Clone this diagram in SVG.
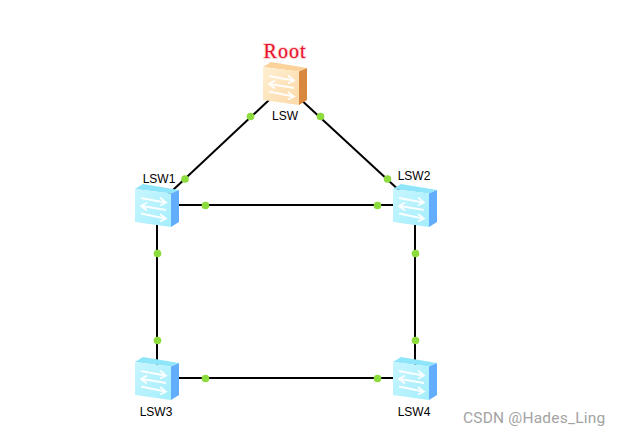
<svg xmlns="http://www.w3.org/2000/svg" width="621" height="436" viewBox="0 0 621 436">
<defs>
<linearGradient id="blueFace" x1="0" y1="0" x2="1" y2="1"><stop offset="0" stop-color="#c8f6ff"/><stop offset="1" stop-color="#a4eefc"/></linearGradient>
<linearGradient id="orangeFace" x1="0" y1="0" x2="1" y2="1"><stop offset="0" stop-color="#fff0d2"/><stop offset="1" stop-color="#fcd9a8"/></linearGradient>
<g id="arrows" fill="none" stroke="#fff" stroke-width="1.8" opacity="0.95">
<path d="M6 14 L30 18.500 M25 13.500 L31 18.500 L25 21.500"/>
<path d="M7 22 L31 26 M12 18.500 L6 22 L12 26.500"/>
<path d="M6 29.500 L30 34.500 M25 30 L31 34.500 L25 37.500"/>
</g>
<g id="sw-blue">
<path d="M0 5 L8 0 L44 6 L36 9.5Z" fill="#8fe6fb"/>
<path d="M0 5 L36 9.5 L36 43 L0 38Z" fill="url(#blueFace)"/>
<path d="M36 9.5 L44 6 L44 38 L36 43Z" fill="#63aefc"/>
<use href="#arrows"/>
</g>
<g id="sw-orange">
<path d="M0 5 L8 0 L44 6 L36 9.5Z" fill="#fbd39a"/>
<path d="M0 5 L36 9.5 L36 43 L0 38Z" fill="url(#orangeFace)"/>
<path d="M36 9.5 L44 6 L44 38 L36 43Z" fill="#d9883f"/>
<use href="#arrows"/>
</g>
</defs>
<style>
.link{stroke:#000;stroke-width:2;fill:none}
.dot{fill:#8bdc3c}
.lbl{font-family:"Liberation Sans",Arial,sans-serif;font-size:12px;fill:#000;text-anchor:middle}
</style>
<rect width="621" height="436" fill="#fff"/>
<g id="connectors">
<line class="link" x1="285" y1="85" x2="157" y2="205"/>
<line class="link" x1="285" y1="85" x2="415" y2="205"/>
<line class="link" x1="157" y1="205" x2="415" y2="205"/>
<line class="link" x1="157" y1="205" x2="157" y2="378"/>
<line class="link" x1="415" y1="205" x2="415" y2="378"/>
<line class="link" x1="157" y1="378" x2="415" y2="378"/>
<circle class="dot" cx="250.500" cy="116.500" r="3.800"/>
<circle class="dot" cx="185" cy="179" r="3.800"/>
<circle class="dot" cx="320.500" cy="116.500" r="3.800"/>
<circle class="dot" cx="387.500" cy="179" r="3.800"/>
<circle class="dot" cx="205.500" cy="205.500" r="3.800"/>
<circle class="dot" cx="377.500" cy="205.500" r="3.800"/>
<circle class="dot" cx="157.500" cy="253.500" r="3.800"/>
<circle class="dot" cx="157.500" cy="340.500" r="3.800"/>
<circle class="dot" cx="415.500" cy="253.500" r="3.800"/>
<circle class="dot" cx="415.500" cy="340.500" r="3.800"/>
<circle class="dot" cx="205.500" cy="378.500" r="3.800"/>
<circle class="dot" cx="377.500" cy="378.500" r="3.800"/>
</g>
<g id="node-lsw">
<use href="#sw-orange" x="263" y="62"/>
<text x="285" y="120" class="lbl">LSW</text>
<text x="285" y="58" font-family="Liberation Serif, serif" font-size="20" fill="#e8102c" stroke="#fbd5d5" stroke-width="2" letter-spacing="1" text-anchor="middle" style="paint-order:stroke">Root</text>
</g>
<g id="node-lsw1">
<use href="#sw-blue" x="135" y="184"/>
<text x="159" y="183" class="lbl">LSW1</text>
</g>
<g id="node-lsw2">
<use href="#sw-blue" x="393" y="184"/>
<text x="414" y="180" class="lbl">LSW2</text>
</g>
<g id="node-lsw3">
<use href="#sw-blue" x="135" y="357"/>
<text x="156" y="416" class="lbl">LSW3</text>
</g>
<g id="node-lsw4">
<use href="#sw-blue" x="393" y="357"/>
<text x="414" y="416" class="lbl">LSW4</text>
</g>
<text x="463" y="423" font-family="Roboto, 'Liberation Sans', sans-serif" font-size="15.500" fill="#a3a3a3" letter-spacing="0.2">CSDN @Hades_Ling</text>
</svg>
